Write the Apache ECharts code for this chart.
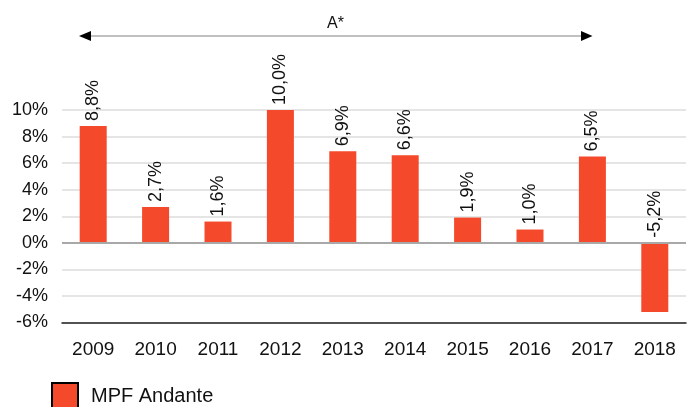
<!DOCTYPE html>
<html>
<head>
<meta charset="utf-8">
<script src="https://cdn.jsdelivr.net/npm/echarts@6/dist/echarts.min.js"></script>
<style>
html,body{margin:0;padding:0;background:#fff;}
#chart{width:688px;height:407px;}
</style>
</head>
<body>
<div id="chart"></div>
<script>
var categories = ['2009','2010','2011','2012','2013','2014','2015','2016','2017','2018'];
var values = [8.8, 2.7, 1.6, 10.0, 6.9, 6.6, 1.9, 1.0, 6.5, -5.2];
var seriesName = 'MPF Andante';
var yTicks = {min: -6, max: 10, interval: 2};
var annotationText = 'A*';

var font = '"Liberation Sans", Arial, sans-serif';
var chart = echarts.init(document.getElementById('chart'), null, {renderer: 'canvas'});

chart.setOption({
  animation: false,
  backgroundColor: '#ffffff',
  grid: {left: 62, right: 2, top: 110, bottom: 84.5, containLabel: false},
  legend: {
    left: 46, top: 377,
    itemWidth: 26, itemHeight: 26,
    icon: 'rect',
    itemStyle: {borderColor: '#000', borderWidth: 2},
    textStyle: {fontFamily: font, fontSize: 20, color: '#111', padding: [0,0,0,8]},
    data: [seriesName]
  },
  xAxis: {
    type: 'category',
    data: categories,
    axisLine: {onZero: false, lineStyle: {color: '#222', width: 1.5}},
    axisTick: {alignWithLabel: true, length: 4, lineStyle: {color: '#222', width: 1}},
    axisLabel: {fontFamily: font, fontSize: 19, color: '#111', margin: 18}
  },
  yAxis: {
    type: 'value',
    min: yTicks.min, max: yTicks.max, interval: yTicks.interval,
    axisLine: {show: false},
    axisTick: {show: false},
    splitLine: {lineStyle: {color: '#dcdcdc', width: 1.5}},
    axisLabel: {fontFamily: font, fontSize: 18, color: '#111', margin: 14,
      formatter: function(v){ return v + '%'; }}
  },
  series: [{
    name: seriesName,
    type: 'bar',
    data: values,
    barWidth: 27,
    itemStyle: {color: '#f4492a'},
    label: {
      show: true,
      position: 'top',
      rotate: 90,
      align: 'left',
      verticalAlign: 'middle',
      distance: 5,
      fontFamily: font,
      fontSize: 18,
      color: '#111',
      formatter: function(p){ return p.value.toFixed(1).replace('.', ',') + '%'; }
    },
    markLine: {
      silent: true,
      symbol: 'none',
      label: {show: false},
      lineStyle: {color: '#a8a8a8', width: 2, type: 'solid'},
      data: [{yAxis: 0}]
    }
  }],
  graphic: [
    {type: 'line', shape: {x1: 88, y1: 36, x2: 584, y2: 36}, style: {stroke: '#c0c0c0', lineWidth: 2}},
    {type: 'polygon', shape: {points: [[79,36],[91,31],[91,41]]}, style: {fill: '#000'}},
    {type: 'polygon', shape: {points: [[592.5,36],[581,31],[581,41]]}, style: {fill: '#000'}},
    {type: 'text', style: {text: annotationText, x: 335.5, y: 23.5, textAlign: 'center', textVerticalAlign: 'middle',
      font: '16px ' + font, fill: '#111'}}
  ]
});
</script>
</body>
</html>
